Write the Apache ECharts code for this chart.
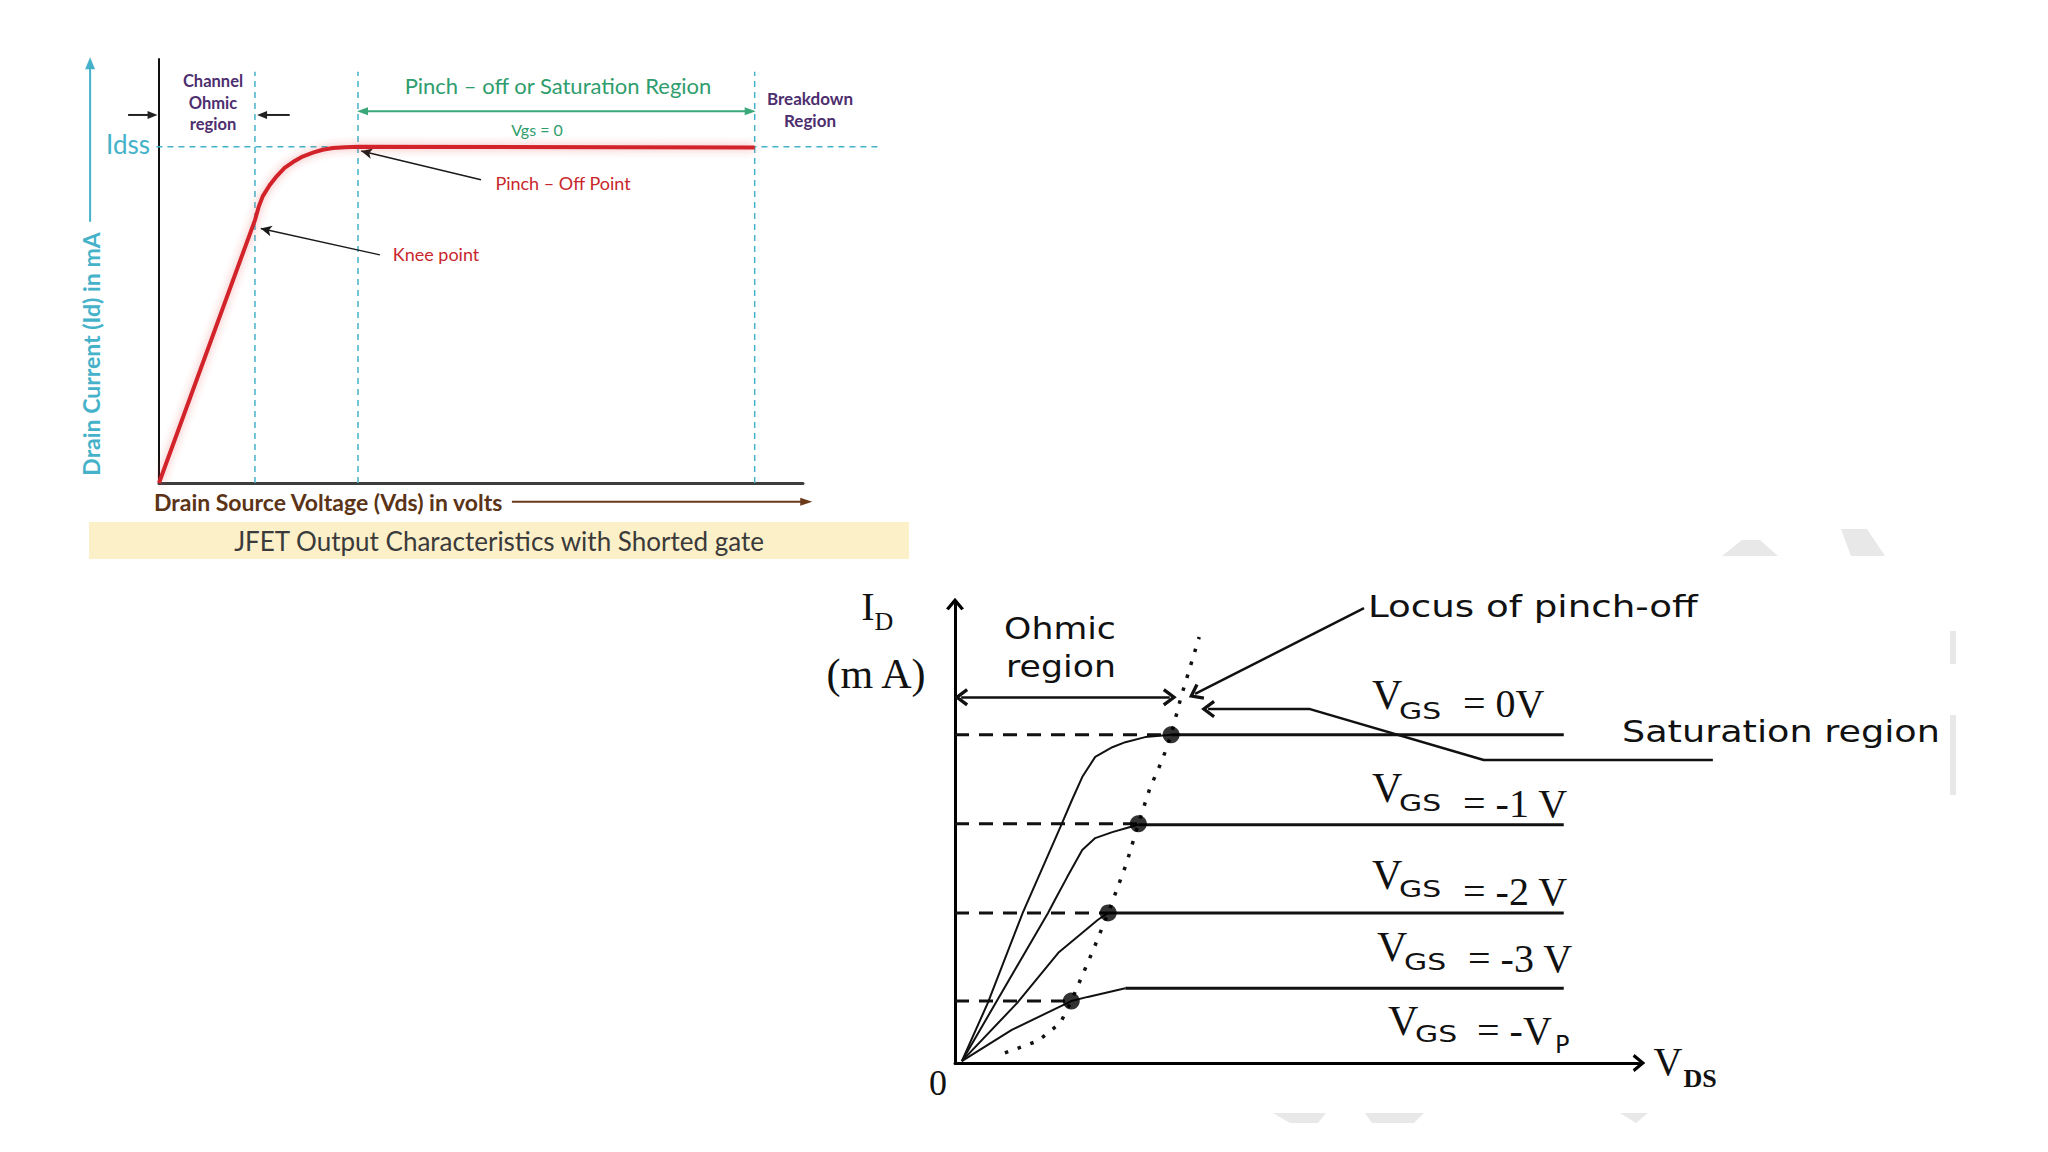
<!DOCTYPE html>
<html>
<head>
<meta charset="utf-8">
<title>JFET output characteristics</title>
<script src="https://cdn.jsdelivr.net/npm/echarts@6/dist/echarts.min.js"></script>
<style>
  html, body { margin: 0; padding: 0; background: #ffffff; }
  #chart { width: 2048px; height: 1152px; }
</style>
</head>
<body>
<div id="chart"></div>
<script>
// ---- top diagram: shorted gate (Vgs = 0), axes are 0..100 % ----
const shortedGateCurve = [[0, 0], [14.9, 62.0], [15.5, 65.2], [16.1, 67.6], [17.2, 70.3], [18.3, 72.4],
  [19.5, 74.3], [20.8, 75.7], [22.3, 77.0], [23.9, 77.9], [25.4, 78.6], [27.0, 79.0], [28.9, 79.2],
  [30.9, 79.3], [92.5, 79.1]]
const regionBounds = [14.9, 30.9, 92.5]   // knee, pinch-off, breakdown
const idssLevel = 79.3

// ---- bottom diagram: family of curves, axes are 0..100 % ----
const vgsLabels = ['= 0V', '= -1 V', '= -2 V', '= -3 V', '= -V']
const curveVgs0 = [[1.0, 0.4], [4.8, 13.1], [9.9, 32.7], [15.4, 51.4], [17.1, 57.3],
  [18.6, 62.3], [20.5, 66.7], [23.0, 68.8], [24.9, 69.9], [27.8, 71.0], [31.6, 71.5]]
const curveVgs1 = [[1.0, 0.4], [13.6, 32.7], [14.6, 35.5], [16.4, 40.5], [18.6, 46.4], [20.5, 49.0],
  [23.0, 50.3], [25.1, 51.2], [26.8, 51.9]]
const curveVgs2 = [[1.0, 0.4], [9.1, 13.1], [15.1, 24.0], [20.9, 31.2], [22.4, 32.7]]
const curveVgs3 = [[1.0, 0.4], [8.3, 7.2], [17.0, 13.5], [19.4, 14.4], [24.9, 16.3]]
const satStartX = [31.6, 26.8, 22.4, 24.9]
const satLevels = [71.5, 51.9, 32.7, 16.3]
const satEndX = 89.0
const pinchDots = [[31.6, 71.5], [26.8, 52.1], [22.4, 32.7], [17.0, 13.5]]
const pinchLocus = [[7.3, 2.2], [12.1, 4.8], [15.4, 8.7], [17.0, 13.5], [20.2, 24.6], [22.4, 32.7],
  [25.1, 43.6], [26.8, 52.1], [28.5, 59.9], [30.3, 66.0], [31.6, 71.5], [33.0, 79.5], [35.7, 92.8]]

const chevron = 'path://M0,12 L10,0 L20,12 L17,14 L10,5.5 L3,14 Z'

let chart = echarts.init(document.getElementById('chart'), null, {renderer: 'svg'})

// grids 0 and 1 carry the visible axes, grids 2 and 3 are the same scales
// over a wider extent for the notes that lie outside the plot box
function line (name, grid, data, lineStyle, extra) {
  return Object.assign({
    name: name,
    type: 'line',
    xAxisIndex: grid,
    yAxisIndex: grid,
    data: data,
    symbol: 'none',
    silent: true,
    clip: false,
    animation: false,
    lineStyle: lineStyle,
    z: 3
  }, extra || {})
}

function head (point, rot, color, size) {
  return {value: point, symbol: 'triangle', symbolSize: size || [9, 12], symbolRotate: rot, itemStyle: {color: color}}
}

function txt (text, x, y, size, color, o) {
  o = o || {}
  return {
    type: 'text',
    x: x,
    y: y,
    rotation: o.rotation || 0,
    scaleX: o.scaleX || 1,
    silent: true,
    z: 100,
    style: {
      text: text,
      fill: color,
      fontSize: size,
      fontFamily: o.family || 'Lato',
      fontWeight: o.weight || 'normal',
      align: o.align || 'center',
      verticalAlign: 'middle',
      textAlign: o.align || 'center',
      textVerticalAlign: 'middle'
    }
  }
}

const cyan = '#45b2c9'
const purple = '#4d2e6e'
const green = '#2f9d6d'
const red = '#c8262c'
const brown = '#6b3a1c'
const dash = {color: cyan, width: 1.5, type: [6, 5]}

let series = []

// top diagram
series.push(line('Vgs = 0', 0, shortedGateCurve,
  {color: '#d2232a', width: 4, shadowBlur: 8, shadowColor: 'rgba(230,60,60,0.45)'}, {z: 5}))
regionBounds.forEach((b, i) => {
  series.push(line('bound' + i, 0, [[b, 0], [b, 97]], dash))
})
series.push(line('Idss', 2, [[-0.4, idssLevel], [111.6, idssLevel]], dash))
series.push(line('yArrow', 2, [[-10.7, 61.6], head([-10.7, 99], 0, cyan, [10, 12])], {color: cyan, width: 2}))
series.push(line('xArrow', 2, [[54.8, -4.4], head([100.5, -4.4], -90, brown, [8, 12])], {color: brown, width: 2}))
series.push(line('ohmL', 2, [[-4.8, 86.8], head([-1.0, 86.8], -90, '#222', [8, 10])], {color: '#222', width: 2}))
series.push(line('ohmR', 0, [[20.3, 86.8], head([16.0, 86.8], 90, '#222', [8, 10])], {color: '#222', width: 2}))
series.push(line('satRange', 0, [head([31.6, 87.7], 90, '#3aa878', [8, 11]), head([91.8, 87.7], -90, '#3aa878', [8, 11])],
  {color: '#3aa878', width: 2}, {
    markLine: {
      silent: true,
      animation: false,
      symbol: ['none', 'arrow'],
      symbolSize: [8, 11],
      label: {show: false},
      lineStyle: {color: '#1a1a1a', width: 1.5, type: 'solid'},
      data: [
        [{coord: [50.0, 71.5]}, {coord: [31.4, 78.3]}],
        [{coord: [34.3, 53.8]}, {coord: [15.8, 60.0]}]
      ]
    }
  }))

// bottom diagram
const curves = [curveVgs0, curveVgs1, curveVgs2, curveVgs3]
curves.forEach((c, i) => {
  series.push(line('VGS' + i, 1, c, {color: '#111', width: 2}))
  series.push(line('sat' + i, 1, [[satStartX[i], satLevels[i]], [satEndX, satLevels[i]]], {color: '#111', width: 3}))
  series.push(line('lvl' + i, 1, [[0, pinchDots[i][1]], pinchDots[i]], {color: '#111', width: 3, type: [14, 10]}))
})
series.push(line('locus', 1, pinchLocus, {color: '#111', width: 3.5, type: [3.5, 10]}))
series.push({
  name: 'pinch',
  type: 'scatter',
  xAxisIndex: 1,
  yAxisIndex: 1,
  data: pinchDots,
  symbolSize: 17,
  silent: true,
  animation: false,
  itemStyle: {color: '#000'},
  z: 6
})
series.push(line('satArrow', 3, [
  {value: [37.0, 77.1], symbol: chevron, symbolSize: [18, 14], symbolRotate: 90, itemStyle: {color: '#111'}},
  [51.9, 77.1], [77.3, 66.0], [110.8, 66.0]], {color: '#111', width: 2.5}, {
  markLine: {
    silent: true,
    animation: false,
    symbol: [chevron, chevron],
    symbolSize: [18, 14],
    label: {show: false},
    lineStyle: {color: '#111', width: 2.5, type: 'solid'},
    data: [
      [{coord: [0.9, 79.7]}, {coord: [31.4, 79.7]}],
      [{coord: [59.8, 99.1], symbol: 'none'}, {coord: [35.1, 80.4]}]
    ]
  }
}))

const hidden = {axisTick: {show: false}, axisLabel: {show: false}, splitLine: {show: false}}
const ghost = {show: false}

let graphic = [
  {type: 'rect', shape: {x: 89, y: 522, width: 820, height: 37}, style: {fill: '#fcf0c9'}, silent: true, z: 1},
  txt('JFET Output Characteristics with Shorted gate', 499, 541, 26, '#3a3a3a'),
  txt('Drain Source Voltage (Vds) in volts', 154, 502, 23, '#5b3417', {align: 'left', weight: 'bold'}),
  txt('Drain Current (Id) in mA', 91, 354, 23, cyan, {weight: 'bold', rotation: Math.PI / 2}),
  txt('Idss', 128, 144, 26, cyan),
  txt('Channel', 213, 81, 16.5, purple, {weight: 'bold'}),
  txt('Ohmic', 213, 103, 16.5, purple, {weight: 'bold'}),
  txt('region', 213, 124, 16.5, purple, {weight: 'bold'}),
  txt('Pinch \u2013 off or Saturation Region', 558, 85, 22, green),
  txt('Vgs = 0', 537, 129, 16, green),
  txt('Breakdown', 810, 98, 17, purple, {weight: 'bold'}),
  txt('Region', 810, 120, 17, purple, {weight: 'bold'}),
  txt('Pinch \u2013 Off Point', 563, 183, 18, red),
  txt('Knee point', 436, 254, 18, red),

  txt('I', 868, 606, 40, '#111', {family: 'Liberation Serif'}),
  txt('D', 884, 621, 26, '#111', {family: 'Liberation Serif'}),
  txt('(m A)', 876, 674, 42, '#111', {family: 'Liberation Serif'}),
  txt('0', 938, 1083, 36, '#111', {family: 'Liberation Serif'}),
  txt('V', 1668, 1061, 40, '#111', {family: 'Liberation Serif'}),
  txt('DS', 1700, 1078, 26, '#111', {family: 'Liberation Serif', weight: 'bold'}),
  txt('Locus of pinch-off', 1368, 606, 31, '#111', {family: 'DejaVu Sans', align: 'left', scaleX: 1.2}),
  txt('Ohmic', 1060, 628, 31, '#111', {family: 'DejaVu Sans', scaleX: 1.12}),
  txt('region', 1061, 666, 31, '#111', {family: 'DejaVu Sans', scaleX: 1.12}),
  txt('Saturation region', 1622, 731, 31, '#111', {family: 'DejaVu Sans', align: 'left', scaleX: 1.18})
]

// VGS labels: big V, GS subscript, then the value
const vgsPos = [
  {vx: 1372, vy: 695, gy: 711, ex: 1463, ey: 703},
  {vx: 1372, vy: 788, gy: 803, ex: 1463, ey: 803},
  {vx: 1372, vy: 875, gy: 889, ex: 1463, ey: 891},
  {vx: 1377, vy: 947, gy: 962, ex: 1468, ey: 958},
  {vx: 1388, vy: 1021, gy: 1034, ex: 1477, ey: 1030}
]
vgsLabels.forEach((l, i) => {
  let p = vgsPos[i]
  graphic.push(txt('V', p.vx, p.vy, 42, '#111', {family: 'Liberation Serif', align: 'left'}))
  graphic.push(txt('GS', p.vx + 27, p.gy, 23, '#111', {family: 'DejaVu Sans', align: 'left', scaleX: 1.3}))
  graphic.push(txt(l, p.ex, p.ey, 40, '#111', {family: 'Liberation Serif', align: 'left'}))
})
graphic.push(txt('P', 1555, 1045, 24, '#111', {family: 'DejaVu Sans', align: 'left'}))

// faded watermark remains
const wm = {fill: '#e8e8e8'}
graphic.push(
  {type: 'polygon', shape: {points: [[1722, 556], [1742, 540], [1760, 540], [1778, 556]]}, style: wm, silent: true, z: 0},
  {type: 'polygon', shape: {points: [[1841, 529], [1867, 529], [1885, 556], [1851, 556]]}, style: wm, silent: true, z: 0},
  {type: 'rect', shape: {x: 1950, y: 631, width: 6, height: 33}, style: wm, silent: true, z: 0},
  {type: 'rect', shape: {x: 1950, y: 715, width: 6, height: 80}, style: wm, silent: true, z: 0},
  {type: 'polygon', shape: {points: [[1273, 1113], [1326, 1113], [1318, 1123], [1290, 1123]]}, style: wm, silent: true, z: 0},
  {type: 'polygon', shape: {points: [[1365, 1113], [1424, 1113], [1414, 1123], [1372, 1123]]}, style: wm, silent: true, z: 0},
  {type: 'polygon', shape: {points: [[1620, 1113], [1648, 1113], [1636, 1123]]}, style: wm, silent: true, z: 0}
)

let option = {
  backgroundColor: '#ffffff',
  animation: false,
  grid: [
    {left: 159, top: 59, width: 644, height: 424},
    {left: 955, top: 604, width: 684, height: 459},
    {left: 30.2, top: 59, width: 901.6, height: 466.4},
    {left: 955, top: 604, width: 820.8, height: 459}
  ],
  xAxis: [
    Object.assign({gridIndex: 0, type: 'value', min: 0, max: 100,
      axisLine: {show: true, lineStyle: {color: '#3d3d3d', width: 3}}}, hidden),
    Object.assign({gridIndex: 1, type: 'value', min: 0, max: 100,
      axisLine: {show: true, symbol: ['none', chevron], symbolSize: [18, 14], lineStyle: {color: '#000', width: 3}}}, hidden),
    Object.assign({gridIndex: 2, type: 'value', min: -20, max: 120, axisLine: ghost}, hidden),
    Object.assign({gridIndex: 3, type: 'value', min: 0, max: 120, axisLine: ghost}, hidden)
  ],
  yAxis: [
    Object.assign({gridIndex: 0, type: 'value', min: 0, max: 100,
      axisLine: {show: true, lineStyle: {color: '#111', width: 2}}}, hidden),
    Object.assign({gridIndex: 1, type: 'value', min: 0, max: 100,
      axisLine: {show: true, symbol: ['none', chevron], symbolSize: [18, 14], lineStyle: {color: '#000', width: 3}}}, hidden),
    Object.assign({gridIndex: 2, type: 'value', min: -10, max: 100, axisLine: ghost}, hidden),
    Object.assign({gridIndex: 3, type: 'value', min: 0, max: 100, axisLine: ghost}, hidden)
  ],
  graphic: graphic,
  series: series
}
chart.setOption(option)
</script>
</body>
</html>
